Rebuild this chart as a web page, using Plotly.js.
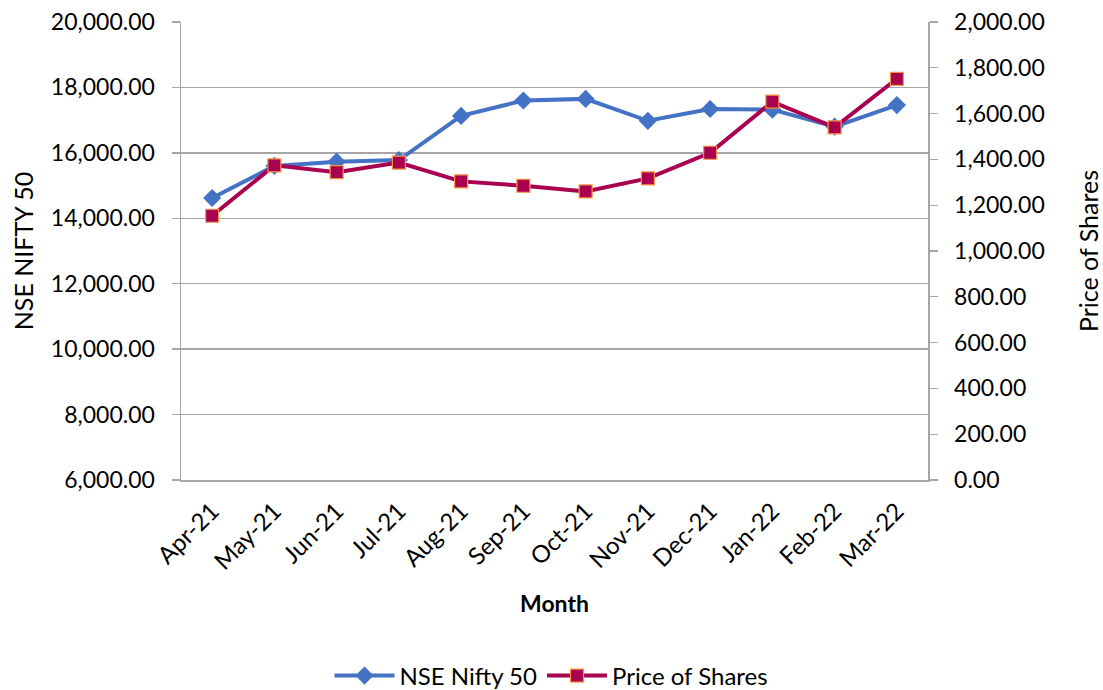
<!DOCTYPE html>
<html>
<head>
<meta charset="utf-8">
<script src="https://cdn.plot.ly/plotly-3.0.1.min.js"></script>
<style>html,body{margin:0;padding:0;background:#fff;}#chart{width:1103px;height:690px;}</style>
</head>
<body>
<div id="chart"></div>
<script>
const months = ["Apr-21","May-21","Jun-21","Jul-21","Aug-21","Sep-21","Oct-21","Nov-21","Dec-21","Jan-22","Feb-22","Mar-22"];
const nifty = [14620, 15600, 15730, 15780, 17130, 17600, 17650, 16980, 17340, 17320, 16800, 17460];
const sharePrice = [1154, 1374, 1344, 1386, 1304, 1285, 1260, 1317, 1429, 1652, 1540, 1752];
const leftTicks = [6000, 8000, 10000, 12000, 14000, 16000, 18000, 20000];
const rightTicks = [0, 200, 400, 600, 800, 1000, 1200, 1400, 1600, 1800, 2000];

const fmt = v => v.toLocaleString('en-US', {minimumFractionDigits: 2, maximumFractionDigits: 2});
const font = "Lato, 'Open Sans', sans-serif";

const traces = [
  {
    x: months, y: nifty, name: "NSE Nifty 50", type: "scatter", mode: "lines+markers",
    line: {color: "#4472C4", width: 4},
    marker: {symbol: "diamond", size: 14, color: "#4472C4"},
    yaxis: "y"
  },
  {
    x: months, y: sharePrice, name: "Price of Shares", type: "scatter", mode: "lines+markers",
    line: {color: "#AA0050", width: 4},
    marker: {symbol: "square", size: 13, color: "#AA0050", line: {color: "#F79646", width: 1.2}},
    yaxis: "y2"
  }
];

const layout = {
  width: 1103, height: 690,
  margin: {l: 181, r: 175, t: 22, b: 210, autoexpand: false},
  paper_bgcolor: "#fff", plot_bgcolor: "#fff",
  font: {family: font, size: 23, color: "#000"},
  showlegend: true,
  legend: {orientation: "h", xref: "container", yref: "container", x: 0.5, xanchor: "center",
           y: 14/690, yanchor: "middle", font: {size: 24}, itemwidth: 60},
  xaxis: {
    type: "category", range: [-0.5, 11.5], tickangle: -45,
    showline: true, linecolor: "#a6a6a6", linewidth: 1.5, showgrid: false,
    ticks: "", tickfont: {size: 24}, ticklabelstandoff: 6,
    title: {text: "<b>Month</b>", font: {size: 23}, standoff: 22},
    automargin: false, zeroline: false
  },
  yaxis: {
    range: [6000, 20000], tickvals: leftTicks, ticktext: leftTicks.map(fmt),
    showline: true, linecolor: "#a6a6a6", linewidth: 1.5,
    showgrid: true, gridcolor: "#a6a6a6", gridwidth: 1.3,
    ticks: "outside", ticklen: 8, tickcolor: "#a6a6a6", tickwidth: 1.3,
    tickfont: {size: 23}, ticklabelstandoff: 12,
    title: {text: "NSE NIFTY 50", font: {size: 25}, standoff: 10},
    automargin: false, zeroline: false
  },
  yaxis2: {
    overlaying: "y", side: "right",
    range: [0, 2000], tickvals: rightTicks, ticktext: rightTicks.map(fmt),
    showline: true, linecolor: "#a6a6a6", linewidth: 1.5, showgrid: false,
    ticks: "outside", ticklen: 8, tickcolor: "#a6a6a6", tickwidth: 1.3,
    tickfont: {size: 23}, ticklabelstandoff: 12,
    title: {text: "Price of Shares", font: {size: 25}, standoff: 38},
    automargin: false, zeroline: false
  }
};

Plotly.newPlot("chart", traces, layout, {displayModeBar: false, staticPlot: true});
</script>
</body>
</html>
